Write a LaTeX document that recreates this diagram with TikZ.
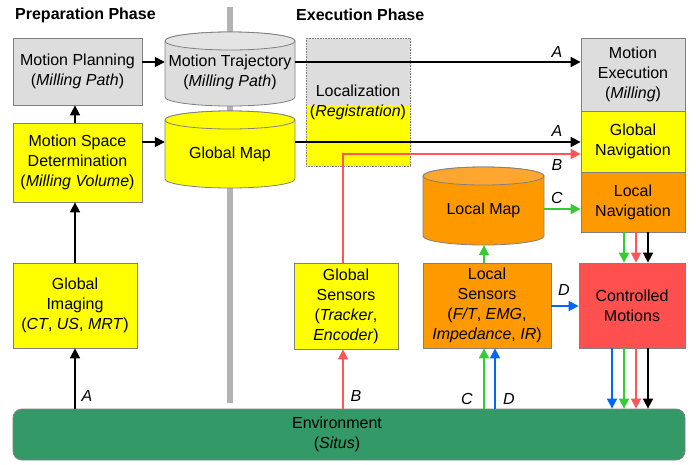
\documentclass[tikz,border=0pt]{standalone}
\usepackage{fontspec}
\setmainfont{Liberation Sans}
\usetikzlibrary{arrows.meta}
\definecolor{bgray}{HTML}{DDDDDD}
\definecolor{bgraytop}{HTML}{E4E4E4}
\definecolor{byel}{HTML}{FFFF00}
\definecolor{bor}{HTML}{FF9900}
\definecolor{bortop}{HTML}{FFA630}
\definecolor{bred}{HTML}{FF5050}
\definecolor{benv}{HTML}{339966}
\definecolor{edge}{HTML}{808080}
\definecolor{divgray}{HTML}{B3B3B3}
\definecolor{ared}{HTML}{FF5555}
\definecolor{agreen}{HTML}{33CC33}
\definecolor{ablue}{HTML}{0066FF}
\begin{document}
\begin{tikzpicture}[x=1pt,y=-1pt,
  font=\fontsize{16}{20}\selectfont,
  box/.style={draw=edge, line width=0.8pt, align=center, inner sep=0pt},
  cylbox/.style={inner sep=0pt},
  txt/.style={align=center, inner sep=0pt},
  lab/.style={font=\fontsize{16}{20}\selectfont\itshape, inner sep=0pt},
  cylline/.style={draw=edge, line width=0.8pt},
  tip/.style={-{Triangle[length=10pt,width=10pt]}},
  blk/.style={tip, line width=1.7pt, black},
  redarr/.style={tip, line width=1.7pt, ared},
  grnarr/.style={tip, line width=1.7pt, agreen},
  bluarr/.style={tip, line width=1.7pt, ablue}]
\useasboundingbox (0,0) rectangle (696,464);
% divider
\fill[divgray] (227,7) rectangle (233,403);
% titles
\node[anchor=west, inner sep=0pt, font=\fontsize{16}{20}\selectfont\bfseries] (tprep) at (15,15) {Preparation Phase};
\node[anchor=west, inner sep=0pt, font=\fontsize{16}{20}\selectfont\bfseries] (texec) at (296,15) {Execution Phase};
% localization box
\fill[bgray] (306,38) rectangle (410,105);
\fill[byel] (306,105) rectangle (410,166);
\node[draw=edge, densely dotted, line width=0.6pt, minimum width=104pt, minimum height=128pt, inner sep=0pt] (loc) at (358,102) {};
\node[txt] (loct) at (358,102) {Localization\\(\textit{Registration})};
% left boxes
\node[box, fill=bgray, minimum width=129pt, minimum height=67pt] (mp) at (77.5,71.5) {Motion Planning\\(\textit{Milling Path})};
\node[box, fill=byel, minimum width=129pt, minimum height=79pt] (msd) at (77.5,162.5) {Motion Space\\Determination\\(\textit{Milling Volume})};
\node[box, fill=byel, minimum width=124pt, minimum height=85pt] (gi) at (75,305.5) {Global\\Imaging\\(\textit{CT}, \textit{US}, \textit{MRT})};
% cylinders
\draw[cylline, fill=bgray] (165,41) -- (165,97) arc[start angle=180,end angle=360,x radius=65pt,y radius=9pt] -- (295,41) arc[start angle=0,end angle=180,x radius=65pt,y radius=9pt] -- cycle;
\draw[cylline, fill=bgraytop] (230,41) ellipse[x radius=65pt, y radius=9pt];
\node[cylbox, minimum width=130pt, minimum height=74pt] (mt) at (230,69) {};
\node[txt] (mtt) at (230,72) {Motion Trajectory\\(\textit{Milling Path})};
\draw[cylline, fill=byel] (165,120) -- (165,179) arc[start angle=180,end angle=360,x radius=65pt,y radius=9pt] -- (295,120) arc[start angle=0,end angle=180,x radius=65pt,y radius=9pt] -- cycle;
\draw[cylline, fill=byel] (230,120) ellipse[x radius=65pt, y radius=9pt];
\node[cylbox, minimum width=130pt, minimum height=77pt] (gm) at (230,149.5) {};
\node[txt] (gmt) at (230,154) {Global Map};
\draw[cylline, fill=bor] (423,176) -- (423,236) arc[start angle=180,end angle=360,x radius=60.5pt,y radius=9pt] -- (544,176) arc[start angle=0,end angle=180,x radius=60.5pt,y radius=9pt] -- cycle;
\draw[cylline, fill=bortop] (483.5,176) ellipse[x radius=60.5pt, y radius=9pt];
\node[cylbox, minimum width=121pt, minimum height=78pt] (lm) at (483.5,206) {};
\node[txt] (lmt) at (483.5,210) {Local Map};
% right column
\node[box, fill=bgray, minimum width=104pt, minimum height=73pt] (me) at (633,74.5) {Motion\\Execution\\(\textit{Milling})};
\node[box, fill=byel, minimum width=104pt, minimum height=61pt] (gn) at (633,141.5) {Global\\Navigation};
\node[box, fill=bor, minimum width=104pt, minimum height=60pt] (ln) at (633,202) {Local\\Navigation};
% sensors
\node[box, fill=byel, minimum width=104pt, minimum height=86pt] (gs) at (346,306) {Global\\Sensors\\(\textit{Tracker},\\\textit{Encoder})};
\node[box, fill=bor, minimum width=128pt, minimum height=85pt] (ls) at (487,305.5) {Local\\Sensors\\(\textit{F/T}, \textit{EMG},\\\textit{Impedance}, \textit{IR})};
\node[box, fill=bred, minimum width=106pt, minimum height=85pt] (cm) at (632,305.5) {Controlled\\Motions};
% environment
\node[draw=edge, line width=0.8pt, fill=benv, rounded corners=9pt, minimum width=672pt, minimum height=51pt, inner sep=0pt] (env) at (349,434.5) {};
\node[txt] (envt) at (337,434.5) {Environment\\(\textit{Situs})};
% helper coordinates
\coordinate (rbend) at (343,154);
% arrows left
\draw[blk] (mp.east |- 0,62) -- (mt.west |- 0,62);
\draw[blk] (msd.east |- 0,142) -- (gm.west |- 0,142);
\draw[blk] (75,0 |- msd.north) -- (75,0 |- mp.south);
\draw[blk] (gi.north) -- (gi.north |- msd.south);
\draw[blk] (gi.south |- env.north) -- (gi.south);
% long arrows
\draw[blk] (mt.east |- 0,62) -- (me.west |- 0,62);
\draw[blk] (gm.east |- 0,142) -- (gn.west |- 0,142);
\draw[ared, line width=1.7pt, line join=miter] (rbend |- gs.north) -- (rbend) -- (571,154);
\draw[redarr] (565,154) -- (gn.west |- rbend);
\draw[redarr] (rbend |- env.north) -- (rbend |- gs.south);
\draw[grnarr] (lm.east |- 0,209) -- (ln.west |- 0,209);
\draw[grnarr] (484,0 |- ls.north) -- (484,0 |- lm.south);
\draw[grnarr] (484,0 |- env.north) -- (484,0 |- ls.south);
\draw[bluarr] (495,0 |- env.north) -- (495,0 |- ls.south);
\draw[bluarr] (ls.east |- 0,306) -- (cm.west |- 0,306);
% navigation to controlled motions
\draw[grnarr] (624,0 |- ln.south) -- (624,0 |- cm.north);
\draw[redarr] (636,0 |- ln.south) -- (636,0 |- cm.north);
\draw[blk] (648,0 |- ln.south) -- (648,0 |- cm.north);
% controlled motions to environment
\draw[bluarr] (612,0 |- cm.south) -- (612,0 |- env.north);
\draw[grnarr] (624,0 |- cm.south) -- (624,0 |- env.north);
\draw[redarr] (636,0 |- cm.south) -- (636,0 |- env.north);
\draw[blk] (648,0 |- cm.south) -- (648,0 |- env.north);
% labels
\node[lab] (la1) at (557,52) {A};
\node[lab] (la2) at (557,131) {A};
\node[lab] (lb1) at (557,165) {B};
\node[lab] (lc1) at (557,198) {C};
\node[lab] (ld1) at (564,290) {D};
\node[lab] (la3) at (87,396) {A};
\node[lab] (lb2) at (356,396) {B};
\node[lab] (lc2) at (467,399) {C};
\node[lab] (ld2) at (509,399) {D};
\end{tikzpicture}
\end{document}
